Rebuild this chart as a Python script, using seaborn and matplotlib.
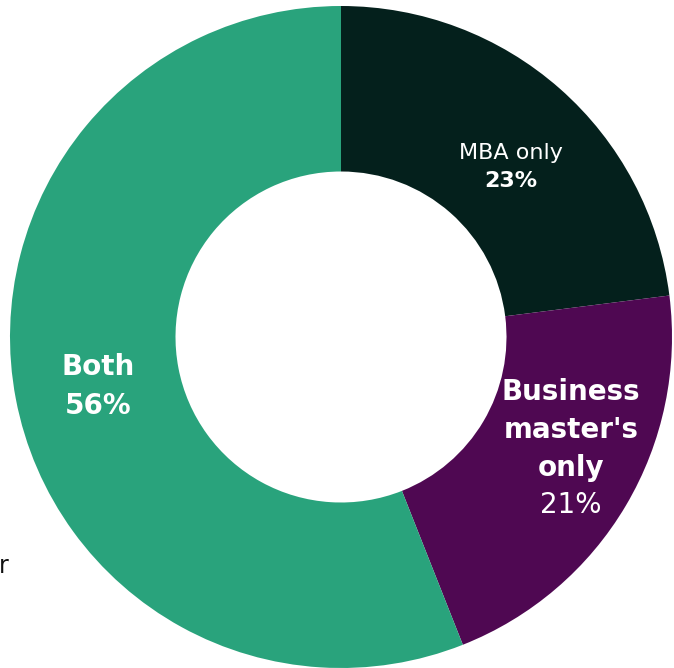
import matplotlib
matplotlib.use("Agg")
import matplotlib.pyplot as plt
import seaborn as sns

# Share of respondents by degree type
categories = ["MBA only", "Business master's only", "Both"]
shares = [23, 21, 56]
label_lines = [["MBA only"], ["Business", "master's", "only"], ["Both"]]
colors = ["#04201c", "#4f0852", "#29a37c"]

sns.set_theme(style="white")
plt.rcParams["font.family"] = ["DejaVu Sans"]

W, H = 674, 668
fig = plt.figure(figsize=(W / 100, H / 100), dpi=100)
ax = fig.add_axes([0, 0, 1, 1])

# Ring geometry in pixels
cx, cy, r_px = 341, 337, 331

ax.pie(shares, colors=colors, startangle=90, counterclock=False,
       radius=1.0, wedgeprops=dict(width=0.5, linewidth=0),
       center=(0, 0), frame=False)
ax.set_xlim(-cx / r_px, (W - cx) / r_px)
ax.set_ylim(-(H - cy) / r_px, cy / r_px)
ax.set_aspect("equal")
ax.axis("off")


def px(x, y):
    return (x - cx) / r_px, (cy - y) / r_px


# MBA only
ax.text(*px(511, 153), label_lines[0][0], color="white", fontsize=16,
        ha="center", va="center")
ax.text(*px(511, 181), f"{shares[0]}%", color="white", fontsize=16,
        fontweight="bold", ha="center", va="center")

# Business master's only
for i, line in enumerate(label_lines[1]):
    ax.text(*px(571, 392 + 38 * i), line, color="white", fontsize=20,
            fontweight="bold", ha="center", va="center")
ax.text(*px(571, 505), f"{shares[1]}%", color="white", fontsize=20,
        ha="center", va="center")

# Both
ax.text(*px(98, 367), label_lines[2][0], color="white", fontsize=20,
        fontweight="bold", ha="center", va="center")
ax.text(*px(98, 406), f"{shares[2]}%", color="white", fontsize=20,
        fontweight="bold", ha="center", va="center")

# Tail of a note running off the left edge
fig.text(9 / W, 1 - 566 / H, "r", color="#111111", fontsize=17,
         ha="right", va="center")

fig.savefig("out.png", dpi=100)
